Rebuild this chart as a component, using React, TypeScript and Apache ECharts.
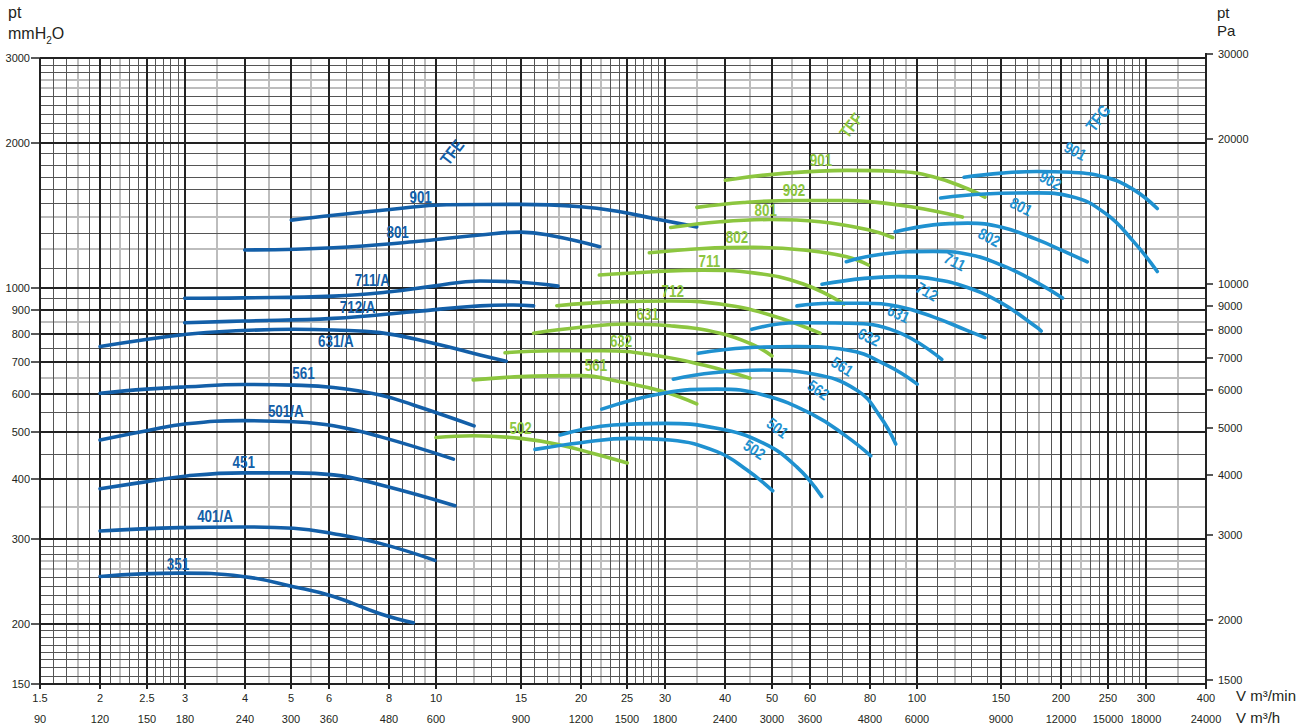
import React, { useEffect, useRef } from "react";
import * as echarts from "echarts";

// ---------- axis / grid values ----------
const xTickLabels = [1.5, 2, 2.5, 3, 4, 5, 6, 8, 10, 15, 20, 25, 30, 40, 50, 60, 80, 100, 150, 200, 250, 300, 400];
const xHourLabels = [90, 120, 150, 180, 240, 300, 360, 480, 600, 900, 1200, 1500, 1800, 2400, 3000, 3600, 4800, 6000, 9000, 12000, 15000, 18000, 24000];
const xMinorLines = [1.6, 1.7, 1.9, 2.1, 2.3, 2.4, 2.6, 2.7, 2.8, 2.9, 6.5, 7, 7.5, 8.5, 9, 11, 13, 14, 16, 17, 19, 21, 23, 24, 26, 27, 28, 29, 65, 70, 75, 85, 90, 110, 130, 140, 160, 170, 190, 210, 230, 240, 260, 270, 280, 290];
const xLightLines = [1.8, 2.2, 3.5, 4.5, 5.5, 9.5, 12, 18, 22, 35, 45, 55, 95, 120, 180, 220, 350];

const yTickLabels = [150, 200, 300, 400, 500, 600, 700, 800, 900, 1000, 2000, 3000];
const yMinorLines = [156, 162.5, 169, 175, 181, 187.5, 194, 210, 220, 230, 240, 250, 280, 290, 450, 550, 750, 950, 1100, 1300, 1500, 1600, 1700, 1800, 1900, 2100, 2200, 2300, 2400, 2500, 2800, 2900];
const yLightLines = [260, 270, 350, 650, 850, 1200, 1400, 2600, 2700];
const paTickLabels = [1500, 2000, 3000, 4000, 5000, 6000, 7000, 8000, 9000, 10000, 20000, 30000];
const PA_PER_MMH2O = 9.81;

// ---------- TFE curves (V m3/min, pt mmH2O) ----------
const tfe351 = [[2, 251], [2.93, 255], [3.96, 251], [5.05, 239], [6.12, 228], [7.65, 210], [8.97, 201]];
const tfe401A = [[2, 312], [2.93, 317], [3.96, 318], [5.05, 316], [6.12, 308], [7.65, 294], [9.95, 271]];
const tfe451 = [[2, 382], [2.5, 395], [3.03, 406], [3.96, 412], [5.05, 412], [6.12, 408], [7.65, 389], [10.95, 352]];
const tfe501A = [[2, 482], [2.5, 504], [3.03, 521], [3.96, 529], [5.05, 526], [6.12, 516], [7.65, 490], [10.87, 440]];
const tfe561 = [[2, 603], [2.5, 615], [3.03, 622], [3.96, 629], [5.05, 627], [6.12, 620], [7.65, 598], [8.97, 570], [12, 516]];
const tfe631A = [[2, 754], [3.03, 800], [3.96, 814], [5.05, 819], [6.12, 816], [7.65, 806], [9.87, 766], [12.34, 724], [14, 703]];
const tfe712A = [[3, 845], [3.96, 852], [6.12, 863], [8.97, 891], [12.34, 916], [14.49, 920], [15.96, 916]];
const tfe711A = [[3, 950], [3.96, 952], [6.12, 960], [8.02, 980], [9.87, 1007], [12.34, 1032], [14.49, 1028], [17.94, 1007]];
const tfe801 = [[4, 1197], [6.12, 1210], [8.97, 1245], [12.34, 1286], [15, 1304], [17.54, 1280], [21.9, 1216]];
const tfe901 = [[5, 1381], [6.12, 1414], [8.02, 1453], [10.52, 1486], [15, 1489], [20, 1472], [24.15, 1437], [28.33, 1392], [34.87, 1337]];

// ---------- TFF curves ----------
const tff502 = [[10, 488], [11.95, 492], [15, 486], [18.12, 471], [21.25, 452], [25, 432]];
const tff561 = [[11.95, 643], [15, 653], [20, 656], [24.15, 637], [29.7, 608], [34.87, 573]];
const tff632 = [[13.92, 732], [17.54, 739], [22.3, 739], [28.33, 724], [36, 690], [45, 648]];
const tff631 = [[15.96, 804], [20, 827], [24.94, 840], [30.68, 833], [39, 804], [45.74, 760], [50, 721]];
const tff712 = [[17.84, 917], [24.15, 935], [30.68, 938], [39, 924], [49.55, 877], [62.94, 804]];
const tff711 = [[21.87, 1062], [28.33, 1079], [36, 1087], [45.74, 1073], [58.1, 1017], [70.6, 924]];
const tff802 = [[27.79, 1181], [36, 1206], [45.74, 1212], [58.1, 1197], [71.56, 1159], [79.35, 1114]];
const tff801 = [[30.79, 1333], [39, 1370], [49.55, 1385], [62.94, 1370], [80, 1316], [89.18, 1271]];
const tff902 = [[34.9, 1468], [43.62, 1502], [55.9, 1517], [71.63, 1517], [91.73, 1485], [108.2, 1444], [124.5, 1401]];
const tff901 = [[40, 1672], [51.46, 1723], [71.63, 1752], [91.73, 1743], [108.2, 1700], [127.6, 1605], [138.7, 1542]];

// ---------- TFG curves ----------
const tfg502 = [[16.07, 461], [20, 476], [25.34, 486], [30.68, 482], [38.41, 456], [44.3, 418], [50.19, 378]];
const tfg501 = [[18.12, 494], [23.39, 518], [29.71, 522], [38.41, 510], [47.98, 475], [56.3, 424], [63.46, 368]];
const tfg562 = [[22.13, 559], [29.71, 603], [38.41, 615], [47.98, 598], [60.95, 544], [71.56, 490], [80.27, 447]];
const tfg561 = [[31.17, 645], [37.77, 665], [47.98, 674], [60.95, 661], [75.1, 612], [83.92, 540], [90.47, 473]];
const tfg632 = [[35.13, 730], [44.3, 750], [56.3, 754], [71.56, 742], [86.67, 690], [100.3, 630]];
const tfg631 = [[45.39, 819], [56.3, 845], [71.56, 843], [90.91, 810], [112.8, 709]];
const tfg712 = [[56.35, 916], [65.96, 928], [77.77, 928], [91.73, 913], [108.2, 869], [127.6, 814], [138.7, 787]];
const tfg711 = [[63.55, 1016], [77.77, 1045], [91.73, 1054], [108.2, 1042], [127.6, 1000], [150.3, 928], [177.8, 827], [181.6, 812]];
const tfg802 = [[71.39, 1132], [84.49, 1173], [108.2, 1189], [127.6, 1173], [150.3, 1113], [177.8, 1025], [201.2, 951]];
const tfg801 = [[90.26, 1306], [108.2, 1350], [127.6, 1361], [150.3, 1335], [177.8, 1259], [202.8, 1189], [226.5, 1131]];
const tfg902 = [[112.2, 1535], [138.7, 1565], [177.8, 1573], [209.6, 1547], [247.3, 1425], [282.2, 1249], [316.7, 1080]];
const tfg901 = [[125.5, 1695], [150.3, 1729], [177.8, 1743], [209.6, 1736], [247.3, 1695], [282.2, 1600], [316.7, 1460]];

const tfeCurves: [string, number[][]][] = [["351", tfe351], ["401/A", tfe401A], ["451", tfe451], ["501/A", tfe501A], ["561", tfe561], ["631/A", tfe631A], ["712/A", tfe712A], ["711/A", tfe711A], ["801", tfe801], ["901", tfe901]];
const tffCurves: [string, number[][]][] = [["502", tff502], ["561", tff561], ["632", tff632], ["631", tff631], ["712", tff712], ["711", tff711], ["802", tff802], ["801", tff801], ["902", tff902], ["901", tff901]];
const tfgCurves: [string, number[][]][] = [["502", tfg502], ["501", tfg501], ["562", tfg562], ["561", tfg561], ["632", tfg632], ["631", tfg631], ["712", tfg712], ["711", tfg711], ["802", tfg802], ["801", tfg801], ["902", tfg902], ["901", tfg901]];

// ---------- curve labels: [text, x, y, rotation] ----------
const tfeLabels: [string, number, number, number][] = [["351", 2.905, 265, 0], ["401/A", 3.47, 334, 0], ["451", 3.98, 432, 0], ["501/A", 4.87, 552, 0], ["561", 5.3, 661, 0], ["631/A", 6.19, 772, 0], ["712/A", 6.87, 908, 0], ["711/A", 7.37, 1032, 0], ["801", 8.32, 1300, 0], ["901", 9.29, 1539, 0]];
const tffLabels: [string, number, number, number][] = [["502", 15, 510, 0], ["561", 21.53, 688, 0], ["632", 24.27, 772, 0], ["631", 27.57, 880, 0], ["712", 31.08, 980, 0], ["711", 37.05, 1135, 0], ["802", 42.3, 1269, 0], ["801", 48.54, 1448, 0], ["902", 55.58, 1594, 0], ["901", 63.25, 1834, 0]];
const tfgLabels: [string, number, number, number][] = [["502", 45.96, 460, -33], ["501", 51.31, 510, -37], ["562", 62.44, 612, -35], ["561", 70, 685, -32], ["632", 79.6, 788, -25], ["631", 91.6, 881, -25], ["712", 105.1, 980, -30], ["711", 120, 1131, -27], ["802", 141.5, 1270, -27], ["801", 164.9, 1472, -27], ["902", 189.8, 1667, -28], ["901", 213.7, 1921, -28]];
const familyLabels: [string, number, number, number][] = [["TFE", 10.8, 1912, 52], ["TFF", 73.05, 2171, 52], ["TFG", 238.5, 2250, 52]];

const TFE_COLOR = "#135fa8";
const TFF_COLOR = "#8cc63f";
const TFG_COLOR = "#1f91d0";
const INK = "#231f20";
const FONT = '"Liberation Sans", Arial, Helvetica, sans-serif';

const X_MIN = 1.5, X_MAX = 400, Y_MIN = 150, Y_MAX = 3000;

function gridLineSeries(values: number[], vertical: boolean, color: string, width: number, z: number) {
  return {
    type: "custom",
    coordinateSystem: "cartesian2d",
    xAxisIndex: 0,
    yAxisIndex: 0,
    silent: true,
    clip: false,
    z,
    data: values.map((v) => (vertical ? [v, Y_MIN] : [X_MIN, v])),
    renderItem: (params: any, api: any) => {
      const off = width % 2 === 1 ? 0.5 : 0;
      if (vertical) {
        const v = api.value(0);
        const a = api.coord([v, Y_MIN]);
        const b = api.coord([v, Y_MAX]);
        const x = Math.round(a[0]) + off;
        return { type: "line", shape: { x1: x, y1: a[1], x2: x, y2: b[1] }, style: { stroke: color, lineWidth: width } };
      }
      const v = api.value(1);
      const a = api.coord([X_MIN, v]);
      const b = api.coord([X_MAX, v]);
      const y = Math.round(a[1]) + off;
      return { type: "line", shape: { x1: a[0], y1: y, x2: b[0], y2: y }, style: { stroke: color, lineWidth: width } };
    },
  };
}

function textStyle(text: string, x: number, y: number, align: string, size = 11) {
  return {
    text, x, y, fill: INK, font: `${size}px ${FONT}`,
    align, textAlign: align, verticalAlign: "middle", textVerticalAlign: "middle",
  };
}

function curveLabelSeries(labels: [string, number, number, number][], colors: string[], size: number) {
  return {
    type: "custom", coordinateSystem: "cartesian2d", xAxisIndex: 0, yAxisIndex: 0, silent: true, clip: false, z: 8,
    data: labels.map(([, x, y], i) => [x, y, i]),
    renderItem: (params: any, api: any) => {
      const i = api.value(2);
      const [t, , , r] = labels[i];
      const p = api.coord([api.value(0), api.value(1)]);
      return {
        type: "text", x: p[0], y: p[1], rotation: (r * Math.PI) / 180, scaleX: 0.84, scaleY: 1,
        style: {
          text: t, x: 0, y: 0, fill: colors[i % colors.length], font: `bold ${size}px ${FONT}`,
          align: "center", textAlign: "center", verticalAlign: "middle", textVerticalAlign: "middle",
        },
      };
    },
  };
}

function buildOption() {
  const series: any[] = [];
  series.push(gridLineSeries(xLightLines, true, "#bdbdbd", 2, 1));
  series.push(gridLineSeries(yLightLines, false, "#bdbdbd", 2, 1));
  series.push(gridLineSeries(xMinorLines, true, "#555555", 1, 2));
  series.push(gridLineSeries(yMinorLines, false, "#555555", 1, 2));
  series.push(gridLineSeries(xTickLabels, true, "#222", 2, 3));
  series.push(gridLineSeries(yTickLabels, false, "#222", 2, 3));

  // bottom ticks + two label rows
  series.push({
    type: "custom", coordinateSystem: "cartesian2d", xAxisIndex: 0, yAxisIndex: 0, silent: true, clip: false, z: 4,
    data: xTickLabels.map((v, i) => [v, Y_MIN, i]),
    renderItem: (params: any, api: any) => {
      const i = api.value(2);
      const p = api.coord([api.value(0), Y_MIN]);
      const x = Math.round(p[0]);
      return {
        type: "group",
        children: [
          { type: "line", shape: { x1: x, y1: p[1], x2: x, y2: p[1] + 5 }, style: { stroke: "#222", lineWidth: 2 } },
          { type: "text", style: textStyle(String(xTickLabels[i]), x, p[1] + 14, "center") },
          { type: "text", style: textStyle(String(xHourLabels[i]), x, p[1] + 35, "center") },
        ],
      };
    },
  });

  // left ticks + labels
  series.push({
    type: "custom", coordinateSystem: "cartesian2d", xAxisIndex: 0, yAxisIndex: 0, silent: true, clip: false, z: 4,
    data: yTickLabels.map((v) => [X_MIN, v]),
    renderItem: (params: any, api: any) => {
      const v = api.value(1);
      const p = api.coord([X_MIN, v]);
      const y = Math.round(p[1]);
      return {
        type: "group",
        children: [
          { type: "line", shape: { x1: p[0] - 9, y1: y, x2: p[0], y2: y }, style: { stroke: "#222", lineWidth: 1.5 } },
          { type: "text", style: textStyle(String(v), p[0] - 10, y, "right") },
        ],
      };
    },
  });

  // right Pa axis
  series.push({
    type: "custom", coordinateSystem: "cartesian2d", xAxisIndex: 0, yAxisIndex: 1, silent: true, clip: false, z: 4,
    data: paTickLabels.map((v) => [X_MAX, v]),
    renderItem: (params: any, api: any) => {
      const v = api.value(1);
      const p = api.coord([X_MAX, v]);
      const y = Math.round(p[1]);
      const children: any[] = [
        { type: "line", shape: { x1: p[0], y1: y, x2: p[0] + 7, y2: y }, style: { stroke: "#222", lineWidth: 1.5 } },
        { type: "text", style: textStyle(String(v), p[0] + 12, y, "left") },
      ];
      if (params.dataIndex === paTickLabels.length - 1) {
        const bottom = api.coord([X_MAX, Y_MIN * PA_PER_MMH2O]);
        children.push({ type: "line", shape: { x1: Math.round(p[0]), y1: y - 1, x2: Math.round(p[0]), y2: bottom[1] }, style: { stroke: "#222", lineWidth: 2 } });
      }
      return { type: "group", children };
    },
  });

  const addFamily = (curves: [string, number[][]][], labels: [string, number, number, number][], color: string) => {
    curves.forEach(([name, pts]) => {
      series.push({
        type: "line", name, data: pts, smooth: 0.45, showSymbol: false, symbol: "none", silent: true, z: 6,
        lineStyle: { color, width: 3.6, cap: "round" }, itemStyle: { color },
      });
    });
    series.push(curveLabelSeries(labels, [color], 16));
  };
  addFamily(tfeCurves, tfeLabels, TFE_COLOR);
  addFamily(tffCurves, tffLabels, TFF_COLOR);
  addFamily(tfgCurves, tfgLabels, TFG_COLOR);
  series.push(curveLabelSeries(familyLabels, [TFE_COLOR, TFF_COLOR, TFG_COLOR], 17));

  return {
    animation: false,
    backgroundColor: "#ffffff",
    grid: { left: 40, right: 100, top: 58, bottom: 44, containLabel: false },
    xAxis: [{ type: "log", logBase: 10, min: X_MIN, max: X_MAX, show: false }],
    yAxis: [
      { type: "log", logBase: 10, min: Y_MIN, max: Y_MAX, show: false },
      { type: "log", logBase: 10, min: Y_MIN * PA_PER_MMH2O, max: Y_MAX * PA_PER_MMH2O, show: false },
    ],
    graphic: [
      { type: "text", left: 8, top: 4, style: { text: "pt", font: `16px ${FONT}`, fill: INK } },
      {
        type: "text", left: 8, top: 25,
        style: {
          text: "{a|mmH}{s|2}{a|O}", fill: INK,
          rich: {
            a: { fontSize: 16, fontFamily: FONT, lineHeight: 20, verticalAlign: "top", fill: INK },
            s: { fontSize: 10, fontFamily: FONT, lineHeight: 12, verticalAlign: "bottom", fill: INK },
          },
        },
      },
      { type: "text", left: 1217, top: 5, style: { text: "pt", font: `15px ${FONT}`, fill: INK } },
      { type: "text", left: 1217, top: 23, style: { text: "Pa", font: `15px ${FONT}`, fill: INK } },
      { type: "text", left: 1236, top: 688, style: { text: "V m³/min", font: `15px ${FONT}`, fill: INK } },
      { type: "text", left: 1236, top: 710, style: { text: "V m³/h", font: `15px ${FONT}`, fill: INK } },
    ],
    series,
  };
}

export default function App() {
  const ref = useRef<HTMLDivElement>(null);
  useEffect(() => {
    const chart = echarts.init(ref.current!, null, { renderer: "svg" });
    chart.setOption(buildOption() as any);
    return () => chart.dispose();
  }, []);
  return (
    <div
      ref={ref}
      style={{ position: "absolute", left: 0, top: 0, width: 1306, height: 728, background: "#fff" }}
    />
  );
}
